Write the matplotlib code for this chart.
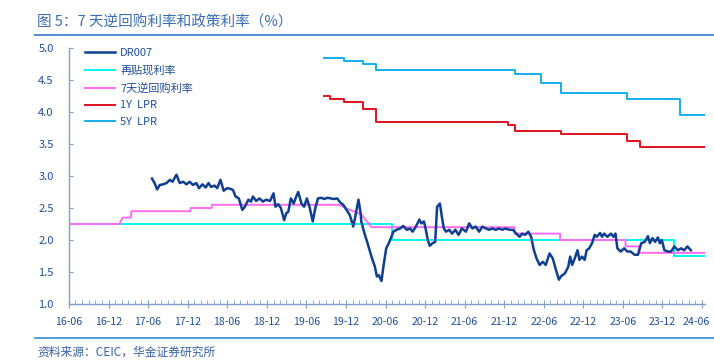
import numpy as np
import pandas as pd
import matplotlib
matplotlib.use('Agg')
import matplotlib.pyplot as plt
import matplotlib.dates as mdates
import matplotlib.transforms as mtransforms

plt.rcParams['font.family'] = ['Noto Sans CJK SC', 'DejaVu Sans']

# DR007
dr007_dates = [
    '2017-06-19', '2017-07-01', '2017-07-13', '2017-07-25', '2017-08-10', '2017-08-25',
    '2017-09-10', '2017-09-22', '2017-10-10', '2017-10-25', '2017-11-10', '2017-11-25',
    '2017-12-10', '2017-12-25', '2018-01-10', '2018-01-22', '2018-02-07', '2018-02-22',
    '2018-03-07', '2018-03-19', '2018-04-04', '2018-04-16', '2018-05-01', '2018-05-16',
    '2018-06-01', '2018-06-16', '2018-06-28', '2018-07-10', '2018-07-25', '2018-08-10',
    '2018-08-22', '2018-09-07', '2018-09-19', '2018-09-28', '2018-10-13', '2018-10-28',
    '2018-11-13', '2018-11-28', '2018-12-16', '2019-01-01', '2019-01-10', '2019-01-22',
    '2019-02-04', '2019-02-19', '2019-03-01', '2019-03-10', '2019-03-22', '2019-04-04',
    '2019-04-16', '2019-04-25', '2019-05-10', '2019-05-22', '2019-06-04', '2019-06-16',
    '2019-07-01', '2019-07-13', '2019-07-25', '2019-08-10', '2019-08-22', '2019-09-07',
    '2019-09-22', '2019-10-07', '2019-10-22', '2019-11-04', '2019-11-19', '2019-12-04',
    '2019-12-19', '2020-01-04', '2020-01-13', '2020-01-28', '2020-02-07', '2020-02-10',
    '2020-02-25', '2020-03-10', '2020-03-28', '2020-04-13', '2020-04-22', '2020-05-01',
    '2020-05-13', '2020-05-22', '2020-06-04', '2020-06-16', '2020-06-28', '2020-07-07',
    '2020-07-22', '2020-08-07', '2020-08-22', '2020-09-07', '2020-09-22', '2020-10-04',
    '2020-10-19', '2020-11-04', '2020-11-13', '2020-11-25', '2020-12-04', '2020-12-13',
    '2020-12-22', '2021-01-04', '2021-01-16', '2021-01-25', '2021-02-07', '2021-02-16',
    '2021-02-25', '2021-03-07', '2021-03-22', '2021-04-04', '2021-04-19', '2021-05-04',
    '2021-05-19', '2021-06-07', '2021-06-22', '2021-07-07', '2021-07-22', '2021-08-07',
    '2021-08-22', '2021-09-07', '2021-09-22', '2021-10-07', '2021-10-22', '2021-11-07',
    '2021-11-22', '2021-12-07', '2021-12-25', '2022-01-10', '2022-01-25', '2022-02-10',
    '2022-02-22', '2022-03-07', '2022-03-22', '2022-04-04', '2022-04-16', '2022-04-28',
    '2022-05-13', '2022-05-28', '2022-06-10', '2022-06-28', '2022-07-13', '2022-07-25',
    '2022-08-10', '2022-08-19', '2022-09-07', '2022-09-22', '2022-10-01', '2022-10-10',
    '2022-10-22', '2022-11-04', '2022-11-13', '2022-11-25', '2022-12-07', '2022-12-16',
    '2022-12-28', '2023-01-10', '2023-01-22', '2023-02-01', '2023-02-16', '2023-02-25',
    '2023-03-07', '2023-03-22', '2023-04-07', '2023-04-19', '2023-04-28', '2023-05-07',
    '2023-05-22', '2023-06-07', '2023-06-22', '2023-07-07', '2023-07-25', '2023-08-10',
    '2023-08-25', '2023-09-10', '2023-09-25', '2023-10-04', '2023-10-16', '2023-10-28',
    '2023-11-10', '2023-11-19', '2023-11-28', '2023-12-10', '2023-12-25', '2024-01-10',
    '2024-01-25', '2024-02-10', '2024-02-25', '2024-03-10', '2024-03-25', '2024-04-10',
]
dr007_values = [
    2.96, 2.89, 2.79, 2.86, 2.87, 2.89, 2.94, 2.91, 3.02, 2.89, 2.91, 2.87,
    2.91, 2.86, 2.89, 2.81, 2.87, 2.82, 2.89, 2.83, 2.85, 2.81, 2.94, 2.77,
    2.81, 2.80, 2.78, 2.68, 2.65, 2.47, 2.52, 2.63, 2.60, 2.68, 2.61, 2.65,
    2.60, 2.63, 2.61, 2.73, 2.52, 2.56, 2.50, 2.31, 2.42, 2.44, 2.65, 2.57,
    2.68, 2.75, 2.57, 2.52, 2.65, 2.52, 2.29, 2.50, 2.65, 2.66, 2.64, 2.66,
    2.65, 2.64, 2.65, 2.59, 2.55, 2.47, 2.39, 2.21, 2.36, 2.63, 2.42, 2.29,
    2.10, 1.95, 1.74, 1.58, 1.43, 1.45, 1.36, 1.58, 1.87, 1.95, 2.05, 2.13,
    2.16, 2.18, 2.22, 2.16, 2.18, 2.13, 2.21, 2.32, 2.26, 2.29, 2.16, 2.00,
    1.91, 1.95, 1.97, 2.52, 2.57, 2.36, 2.18, 2.13, 2.16, 2.10, 2.16, 2.08,
    2.18, 2.13, 2.26, 2.18, 2.21, 2.13, 2.21, 2.18, 2.16, 2.18, 2.16, 2.18,
    2.16, 2.18, 2.16, 2.16, 2.10, 2.05, 2.10, 2.08, 2.13, 2.05, 1.85, 1.72,
    1.61, 1.66, 1.61, 1.79, 1.71, 1.56, 1.38, 1.43, 1.48, 1.58, 1.74, 1.61,
    1.71, 1.84, 1.69, 1.74, 1.69, 1.84, 1.87, 1.95, 2.08, 2.05, 2.11, 2.05,
    2.10, 2.05, 2.10, 2.05, 2.10, 1.87, 1.82, 1.87, 1.82, 1.82, 1.77, 1.77,
    1.95, 1.97, 2.06, 1.95, 2.03, 1.97, 2.04, 1.95, 2.00, 1.84, 1.82, 1.82,
    1.90, 1.84, 1.87, 1.84, 1.90, 1.84,
]

# 再贴现利率
rediscount_dates = ['2016-06-01', '2020-07-01', '2024-01-25']
rediscount_values = [2.25, 2.00, 1.75]

# 7天逆回购利率
rr7_dates = ['2016-06-01', '2017-01-20', '2017-02-03', '2017-03-14', '2017-03-16',
             '2017-12-13', '2017-12-15', '2018-03-21', '2018-03-23', '2019-11-01',
             '2019-12-10', '2020-01-05', '2020-02-10', '2020-03-28', '2022-01-17',
             '2022-01-18', '2022-08-15', '2022-08-16', '2023-06-13', '2023-06-14',
             '2023-08-15', '2023-08-16', '2024-06-13']
rr7_values = [2.25, 2.25, 2.35, 2.35, 2.45, 2.45, 2.50, 2.50, 2.55, 2.55,
              2.48, 2.45, 2.40, 2.20, 2.20, 2.10, 2.10, 2.00, 2.00, 1.90,
              1.90, 1.80, 1.80]

# LPR
lpr1y_dates = ['2019-08-20', '2019-09-20', '2019-11-20', '2020-02-20', '2020-04-20',
               '2021-12-20', '2022-01-20', '2022-08-22', '2023-06-20', '2023-08-21']
lpr1y_values = [4.25, 4.20, 4.15, 4.05, 3.85, 3.80, 3.70, 3.65, 3.55, 3.45]
lpr5y_dates = ['2019-08-20', '2019-11-20', '2020-02-20', '2020-04-20', '2022-01-20',
               '2022-05-20', '2022-08-22', '2023-06-20', '2024-02-20']
lpr5y_values = [4.85, 4.80, 4.75, 4.65, 4.60, 4.45, 4.30, 4.20, 3.95]

end_date = '2024-06-13'
tick_labels = ['16-06', '16-12', '17-06', '17-12', '18-06', '18-12', '19-06', '19-12',
               '20-06', '20-12', '21-06', '21-12', '22-06', '22-12', '23-06', '23-12', '24-06']

label_color = '#1F4E9A'


def step_series(dates, values):
    # 阶梯序列延伸到最后日期
    d = pd.to_datetime(list(dates) + [end_date])
    v = list(values) + [values[-1]]
    return d, v


fig = plt.figure(figsize=(7.14, 3.63), dpi=100)
ax = fig.add_axes([0.0966, 0.1625, 0.8904, 0.7053])

ax.plot(pd.to_datetime(dr007_dates), dr007_values, color='#0E3F92', lw=1.8, label='DR007', zorder=5)
d, v = step_series(rediscount_dates, rediscount_values)
ax.step(d, v, where='post', color='#00F5F5', lw=1.4, label='再贴现利率', zorder=3)
ax.plot(pd.to_datetime(rr7_dates), rr7_values, color='#FF6BF2', lw=1.4, label='7天逆回购利率', zorder=4)
d, v = step_series(lpr1y_dates, lpr1y_values)
ax.step(d, v, where='post', color='#E0101E', lw=1.4, label='1Y  LPR')
d, v = step_series(lpr5y_dates, lpr5y_values)
ax.step(d, v, where='post', color='#16AEEB', lw=1.4, label='5Y  LPR')

ax.set_xlim(pd.Timestamp('2016-06-01'), pd.Timestamp(end_date))
ax.set_ylim(1.0, 5.0)
ax.set_yticks(np.arange(1.0, 5.01, 0.5))
ax.yaxis.set_major_formatter(matplotlib.ticker.FormatStrFormatter('%.1f'))

major_ticks = pd.date_range('2016-06-01', '2024-06-01', freq='6MS')
ax.set_xticks(major_ticks)
ax.set_xticklabels(tick_labels)
ax.xaxis.set_minor_locator(mdates.MonthLocator())

for s in ['top', 'right']:
    ax.spines[s].set_visible(False)
for s in ['left', 'bottom']:
    ax.spines[s].set_color('#7F9FC8')
    ax.spines[s].set_linewidth(1.0)

ax.tick_params(axis='x', which='major', direction='inout', length=6, color='#7F9FC8',
               labelsize=7.6, labelcolor=label_color, pad=6)
ax.tick_params(axis='x', which='minor', direction='in', length=3, color='#7F9FC8')
ax.tick_params(axis='y', which='major', direction='in', length=3, color='#7F9FC8',
               labelsize=8, labelcolor=label_color, pad=11)

# 最后一个刻度标签稍向左移, 避免被裁切
last = ax.get_xticklabels()[-1]
last.set_transform(last.get_transform() + mtransforms.ScaledTranslation(-4 / 72, 0, fig.dpi_scale_trans))

leg = ax.legend(loc='upper left', bbox_to_anchor=(0.015, 1.025), frameon=False, fontsize=8,
                handlelength=2.7, handletextpad=0.45, labelspacing=0.62, borderpad=0.1)
for t in leg.get_texts():
    t.set_color(label_color)

# 标题和来源
fig.text(0.052, 0.937, '图 5：7 天逆回购利率和政策利率（%）', fontsize=10.5, color='#3A6DB5',
         ha='left', va='center')
fig.add_artist(plt.Line2D([0.049, 1.0], [0.903, 0.903], color='#4F8BD0', lw=1.4))
fig.add_artist(plt.Line2D([0.049, 1.0], [0.069, 0.069], color='#2E8BD6', lw=1.2))
fig.text(0.052, 0.030, '资料来源：CEIC，华金证券研究所', fontsize=8.5, color='#3560A8',
         ha='left', va='center', style='italic')

fig.savefig('out.png', dpi=100)
